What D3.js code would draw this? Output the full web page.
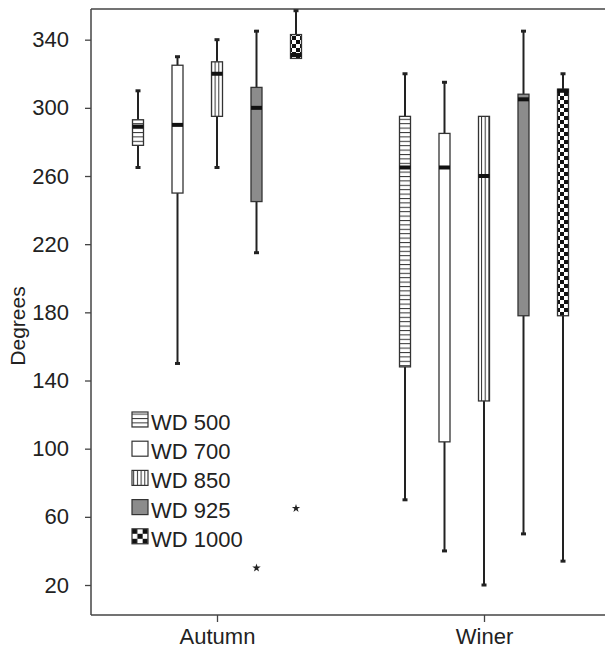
<!DOCTYPE html>
<html>
<head>
<meta charset="utf-8">
<script src="https://cdn.jsdelivr.net/npm/d3@7"></script>
<style>
  body { margin: 0; background: #fff; }
  svg text { font-family: "Liberation Sans", Arial, Helvetica, sans-serif; fill: #222; }
</style>
</head>
<body>
<div id="chart"></div>
<script>
var seasons = ['Autumn', 'Winer'];
var series = ['WD 500', 'WD 700', 'WD 850', 'WD 925', 'WD 1000'];
// each box: [lower whisker, Q1, median, Q3, upper whisker]
var autumnBoxes = [
  [265, 278, 289, 293, 310],
  [150, 250, 290, 325, 330],
  [265, 295, 320, 327, 340],
  [215, 245, 300, 312, 345],
  [329, 329, 331, 343, 357]
];
var winterBoxes = [
  [70, 148, 265, 295, 320],
  [40, 104, 265, 285, 315],
  [20, 128, 260, 295, 295],
  [50, 178, 305, 308, 345],
  [34, 178, 310, 311, 320]
];
var outlierSeason = ['Autumn', 'Autumn'];
var outlierSeries = ['WD 925', 'WD 1000'];
var outlierValues = [30, 65];
var yTicks = [20, 60, 100, 140, 180, 220, 260, 300, 340];

(function () {
  'use strict';

  var W = 605, H = 650;
  var left = 91, right = 605, top = 9, bottom = 615;
  var BOX_W = 11;
  var fills = ['url(#pat-h)', '#fff', 'url(#pat-v)', '#8c8c8c', 'url(#pat-c)'];
  var legFills = ['url(#pat-h)', '#fff', 'url(#pat-v)', '#8c8c8c', 'url(#pat-c-leg)'];

  var svg = d3.select('#chart').append('svg').attr('width', W).attr('height', H);

  // fill patterns for the five levels
  var defs = svg.append('defs');
  var ph = defs.append('pattern').attr('id', 'pat-h').attr('patternUnits', 'userSpaceOnUse')
    .attr('width', 4).attr('height', 4.4);
  ph.append('rect').attr('width', 4).attr('height', 4.4).attr('fill', '#fff');
  ph.append('rect').attr('width', 4).attr('height', 1).attr('fill', '#333');
  var pv = defs.append('pattern').attr('id', 'pat-v').attr('patternUnits', 'userSpaceOnUse')
    .attr('width', 3.7).attr('height', 4);
  pv.append('rect').attr('width', 3.7).attr('height', 4).attr('fill', '#fff');
  pv.append('rect').attr('width', 1).attr('height', 4).attr('fill', '#333');
  var pc = defs.append('pattern').attr('id', 'pat-c').attr('patternUnits', 'userSpaceOnUse')
    .attr('width', 8).attr('height', 8);
  pc.append('rect').attr('width', 8).attr('height', 8).attr('fill', '#fff');
  pc.append('rect').attr('width', 4).attr('height', 4).attr('fill', '#111');
  pc.append('rect').attr('x', 4).attr('y', 4).attr('width', 4).attr('height', 4).attr('fill', '#111');
  // legend swatch: 3x3 checker scaled to the swatch
  var pl = defs.append('pattern').attr('id', 'pat-c-leg').attr('patternUnits', 'objectBoundingBox')
    .attr('patternContentUnits', 'objectBoundingBox').attr('width', 2 / 3).attr('height', 2 / 3);
  pl.append('rect').attr('width', 2 / 3).attr('height', 2 / 3).attr('fill', '#fff');
  pl.append('rect').attr('width', 1 / 3).attr('height', 1 / 3).attr('fill', '#111');
  pl.append('rect').attr('x', 1 / 3).attr('y', 1 / 3).attr('width', 1 / 3).attr('height', 1 / 3).attr('fill', '#111');

  var y = d3.scaleLinear().domain([2.4, 358]).range([bottom, top]);
  var x = d3.scalePoint().domain(seasons).range([217, 484]);
  var xs = d3.scalePoint().domain(series).range([-79, 79]);

  // frame: top line + axes
  svg.append('line').attr('x1', left).attr('x2', right).attr('y1', top).attr('y2', top)
    .attr('stroke', '#444').attr('stroke-width', 1.5);
  svg.append('line').attr('x1', left).attr('x2', right).attr('y1', bottom).attr('y2', bottom)
    .attr('stroke', '#444').attr('stroke-width', 1.5);

  var ya = svg.append('g').attr('transform', 'translate(' + left + ',0)')
    .call(d3.axisLeft(y).tickValues(yTicks).tickSize(6).tickSizeOuter(0).tickPadding(16));
  ya.select('.domain').attr('d', 'M0,' + top + 'V' + bottom).attr('stroke', '#444').attr('stroke-width', 1.5);
  ya.selectAll('.tick line').attr('stroke', '#444').attr('stroke-width', 1.3);
  ya.selectAll('.tick text').style('font-size', '22px').attr('fill', '#222');

  var xa = svg.append('g').attr('transform', 'translate(0,' + bottom + ')')
    .call(d3.axisBottom(x).tickSize(7).tickSizeOuter(0).tickPadding(6));
  xa.select('.domain').remove();
  xa.selectAll('.tick line').attr('stroke', '#444').attr('stroke-width', 1.3);
  xa.selectAll('.tick text').style('font-size', '22px').attr('fill', '#222');

  svg.append('text').attr('transform', 'translate(25,' + ((top + bottom) / 2 + 14) + ') rotate(-90)')
    .attr('text-anchor', 'middle').style('font-size', '21px').text('Degrees');

  function drawBox(season, name, idx, b) {
    var cx = x(season) + xs(name);
    var g = svg.append('g');
    // whiskers
    if (b[4] > b[3]) {
      g.append('line').attr('x1', cx).attr('x2', cx).attr('y1', y(b[3])).attr('y2', y(b[4]))
        .attr('stroke', '#222').attr('stroke-width', 2);
      g.append('line').attr('x1', cx - 2.5).attr('x2', cx + 2.5).attr('y1', y(b[4])).attr('y2', y(b[4]))
        .attr('stroke', '#222').attr('stroke-width', 3);
    }
    if (b[0] < b[1]) {
      g.append('line').attr('x1', cx).attr('x2', cx).attr('y1', y(b[1])).attr('y2', y(b[0]))
        .attr('stroke', '#222').attr('stroke-width', 2);
      g.append('line').attr('x1', cx - 2.5).attr('x2', cx + 2.5).attr('y1', y(b[0])).attr('y2', y(b[0]))
        .attr('stroke', '#222').attr('stroke-width', 3);
    }
    g.append('rect').attr('x', cx - BOX_W / 2).attr('y', y(b[3]))
      .attr('width', BOX_W).attr('height', y(b[1]) - y(b[3]))
      .attr('fill', fills[idx]).attr('stroke', '#333').attr('stroke-width', 1.3);
    g.append('rect').attr('x', cx - BOX_W / 2).attr('y', y(b[2]) - 2)
      .attr('width', BOX_W).attr('height', 4).attr('fill', '#111');
  }

  series.forEach(function (s, i) {
    drawBox('Autumn', s, i, autumnBoxes[i]);
    drawBox('Winer', s, i, winterBoxes[i]);
  });

  var star = d3.symbol().type(d3.symbolStar).size(22);
  outlierValues.forEach(function (v, i) {
    svg.append('path').attr('d', star)
      .attr('transform', 'translate(' + (x(outlierSeason[i]) + xs(outlierSeries[i])) + ',' + y(v) + ')')
      .attr('fill', '#222');
  });

  // legend
  var leg = svg.append('g');
  series.forEach(function (s, i) {
    var by = 430 + i * 29.2;
    leg.append('rect').attr('x', 132).attr('y', by - 18).attr('width', 16).attr('height', 15)
      .attr('fill', legFills[i]).attr('stroke', '#333').attr('stroke-width', 1.2);
    leg.append('text').attr('x', 151).attr('y', by).style('font-size', '22px').text(s);
  });
})();
</script>
</body>
</html>
